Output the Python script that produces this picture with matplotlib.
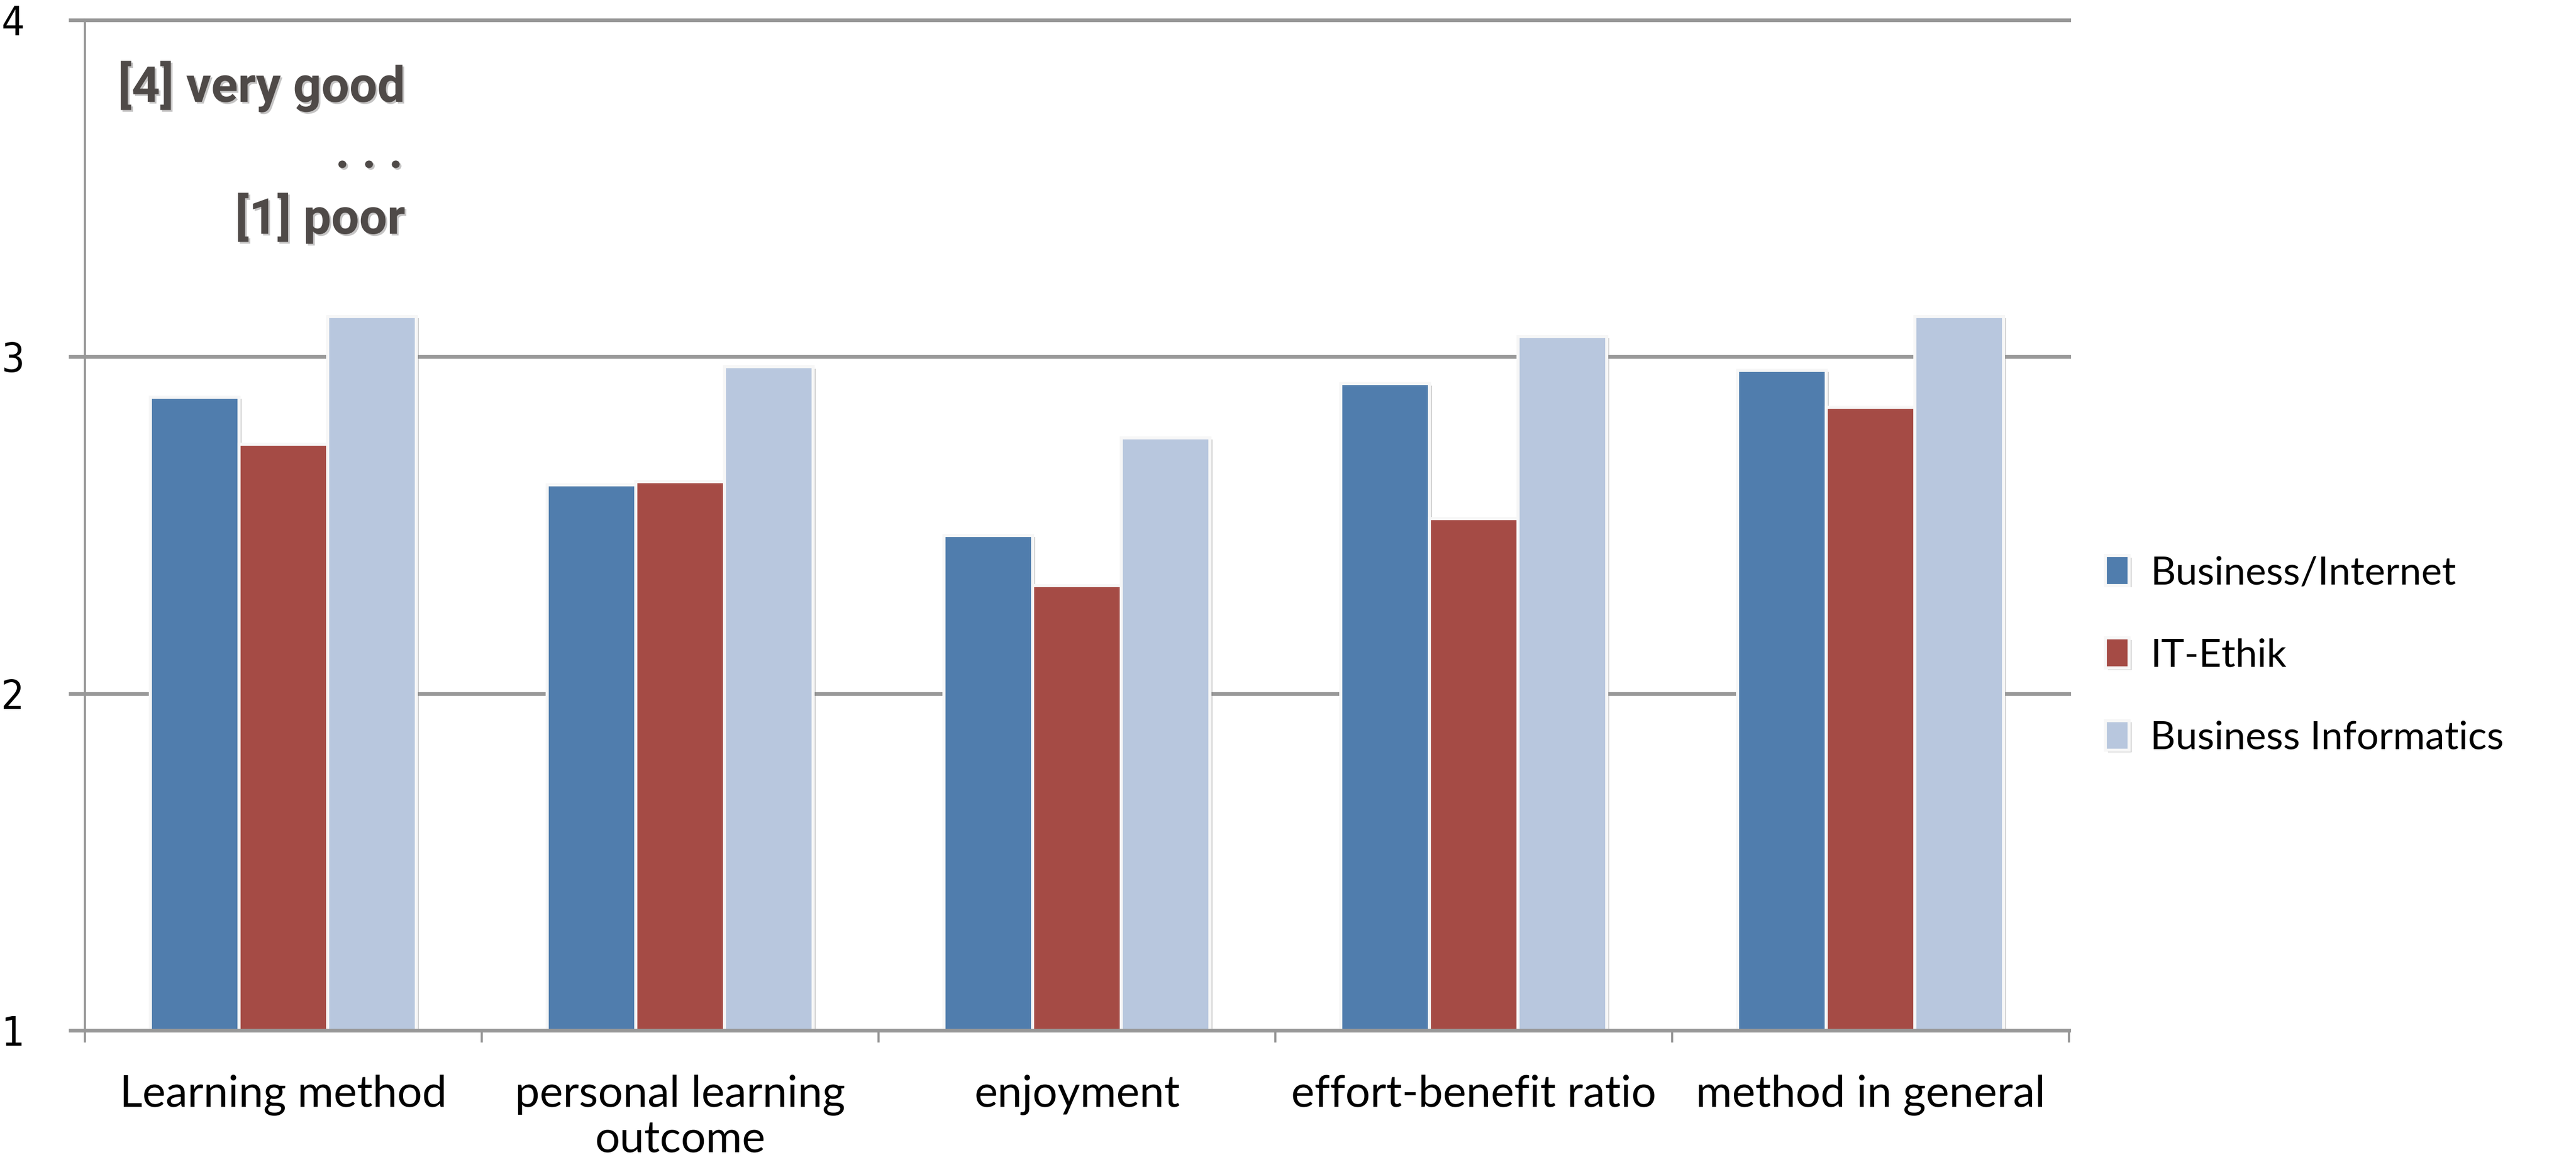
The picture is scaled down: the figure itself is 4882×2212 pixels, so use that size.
import matplotlib
matplotlib.use("Agg")
import matplotlib.pyplot as plt
import matplotlib.patheffects as pe
import numpy as np

# Ratings per course on a 1 (poor) .. 4 (very good) scale
categories = ["Learning method", "personal learning\noutcome", "enjoyment",
              "effort-benefit ratio", "method in general"]
series_names = ["Business/Internet", "IT-Ethik", "Business Informatics"]
business_internet = [2.88, 2.62, 2.47, 2.92, 2.96]
it_ethik = [2.74, 2.63, 2.32, 2.52, 2.85]
business_informatics = [3.12, 2.97, 2.76, 3.06, 3.12]
y_ticks = [1, 2, 3, 4]

colors = ["#507dad", "#a54b45", "#b8c7de"]
grid_gray = "#989898"

W, H, DPI = 4882, 2212, 300
fig = plt.figure(figsize=(W / DPI, H / DPI), dpi=DPI)
fig.patch.set_facecolor("white")

ax_left, ax_right = 161 / W, 3921 / W
ax_bottom, ax_top = 259 / H, 2174 / H
ax = fig.add_axes([ax_left, ax_bottom, ax_right - ax_left, ax_top - ax_bottom])

x = np.arange(len(categories))
bar_w = 0.2234
values = [business_internet, it_ethik, business_informatics]
shadow = [pe.SimplePatchShadow(offset=(1.2, -0.8), shadow_rgbFace="#808080", alpha=0.35),
          pe.Normal()]
for i, (vals, col, name) in enumerate(zip(values, colors, series_names)):
    base = 1.0
    heights = [v - base for v in vals]
    bars = ax.bar(x + (i - 1) * bar_w, heights, bar_w, bottom=base, color=col,
                  edgecolor="#f7f7f7", linewidth=1.4, label=name, zorder=3)
    for b in bars:
        b.set_path_effects(shadow)

ax.set_xlim(-0.5, len(categories) - 0.5)
ax.set_ylim(1, 4)

# Horizontal gridlines
for yv in y_ticks[1:]:
    ax.axhline(yv, color=grid_gray, linewidth=1.7, zorder=1, clip_on=False)

for s in ["top", "right"]:
    ax.spines[s].set_visible(False)
ax.spines["left"].set_color(grid_gray)
ax.spines["left"].set_linewidth(1.0)
ax.spines["bottom"].set_color(grid_gray)
ax.spines["bottom"].set_linewidth(1.7)
ax.spines["bottom"].set_zorder(4)

# Y axis
ax.set_yticks(y_ticks)
ax.set_yticklabels([str(v) for v in y_ticks])
ax.tick_params(axis="y", direction="out", length=7.5, width=1.7, color=grid_gray,
               pad=20)
for lab in ax.get_yticklabels():
    lab.set_fontfamily("DejaVu Sans")
    lab.set_fontstretch("condensed")
    lab.set_fontsize(18.5)
    lab.set_color("black")

# X axis: ticks between groups, labels at group centres
ax.set_xticks(np.arange(-0.5, len(categories)), minor=False)
ax.set_xticklabels([""] * (len(categories) + 1))
ax.tick_params(axis="x", which="major", direction="out", length=5.5, width=1.0,
               color=grid_gray)
ax.set_xticks(x, minor=True)
ax.set_xticklabels(categories, minor=True, fontfamily="Lato", fontsize=20,
                   linespacing=1.15)
ax.tick_params(axis="x", which="minor", length=0, pad=20)

# Scale note
note_kw = dict(fontfamily="Roboto", fontweight="bold", color="#4f4a48",
               ha="right", fontsize=22.5,
               path_effects=[pe.SimplePatchShadow(offset=(0.8, -0.8), alpha=0.25),
                             pe.Normal()])
fig.text(768 / W, 1 - 193 / H, "[4] very good", va="baseline", **note_kw)
fig.text(764 / W, 1 - 318 / H, ". . .", va="baseline", **note_kw)
fig.text(768 / W, 1 - 443 / H, "[1] poor", va="baseline", **note_kw)

# Legend
leg = fig.legend(loc="center left", bbox_to_anchor=(3990 / W, 1 - 1243 / H),
                 frameon=False, prop={"family": "Lato", "size": 17.8},
                 handlelength=0.6, handleheight=0.8, handletextpad=0.55,
                 labelspacing=1.2, borderaxespad=0, borderpad=0)

fig.savefig("out.png", dpi=DPI, facecolor="white")
